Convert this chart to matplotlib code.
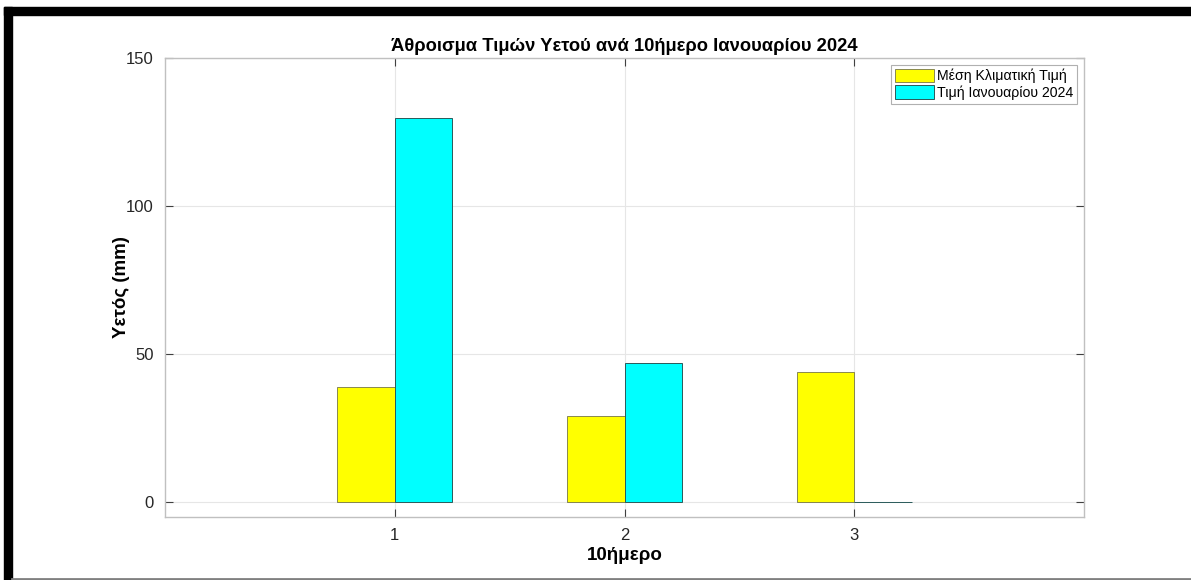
import matplotlib
matplotlib.use("Agg")
import matplotlib.pyplot as plt
import numpy as np
from matplotlib.patches import Rectangle
from matplotlib.lines import Line2D

plt.rcParams['font.family'] = ['Liberation Sans', 'DejaVu Sans']

categories = [1, 2, 3]
climate_mean = [39.0, 29.1, 43.9]
jan_2024 = [129.7, 47.1, 0.0]
series_labels = ["Μέση Κλιματική Τιμή", "Τιμή Ιανουαρίου 2024"]
yticks = [0, 50, 100, 150]

fig = plt.figure(figsize=(11.91, 5.80), dpi=100)
W, H = 1191, 580
ax = fig.add_axes([165 / W, 1 - 517 / H, (1084 - 165) / W, (517 - 58) / H])

x = np.array(categories, dtype=float)
w = 0.25
ax.bar(x - w / 2, climate_mean, width=w, color='#ffff00', edgecolor='#5a5a3a',
       linewidth=0.5, label=series_labels[0], zorder=3)
ax.bar(x + w / 2, jan_2024, width=w, color='#00ffff', edgecolor='#2a5a5a',
       linewidth=0.7, label=series_labels[1], zorder=3)

ax.set_xlim(0, 4)
ax.set_ylim(-5, 150)
ax.set_xticks(categories)
ax.set_yticks(yticks)
ax.grid(True, color='#e6e6e6', linewidth=0.8, zorder=0)
for s in ax.spines.values():
    s.set_color('#c0c0c0')
    s.set_linewidth(1.0)
ax.tick_params(direction='in', length=6, color='#404040', labelcolor='#262626',
               labelsize=12, top=True, right=True, pad=8)

ax.set_title("Άθροισμα Τιμών Υετού ανά 10ήμερο Ιανουαρίου 2024",
             fontsize=13.2, fontweight='bold', pad=5)
ax.set_xlabel("10ήμερο", fontsize=13.5, fontweight='bold', labelpad=3)
ax.set_ylabel("Υετός (mm)", fontsize=13.5, fontweight='bold', labelpad=-3)

leg = ax.legend(loc='upper right', fontsize=10.2, frameon=True, fancybox=False,
                edgecolor='#b0b0b0', framealpha=1, handlelength=2.8,
                handleheight=1.1, handletextpad=0.2, borderpad=0.25,
                labelspacing=0.15, borderaxespad=0.5)
leg.get_frame().set_linewidth(0.8)

# screenshot frame: black border on left/top, gray line at bottom
fig.add_artist(Rectangle((4 / W, 0), 8 / W, 1 - 7 / H, transform=fig.transFigure,
                         color='black', zorder=10))
fig.add_artist(Rectangle((4 / W, 1 - 15 / H), 1, 8 / H, transform=fig.transFigure,
                         color='black', zorder=10))
fig.add_artist(Line2D([12 / W, 1], [1.5 / H, 1.5 / H], transform=fig.transFigure,
                      color='#808080', linewidth=2, zorder=10))

fig.savefig("out.png", dpi=100, facecolor='white')
